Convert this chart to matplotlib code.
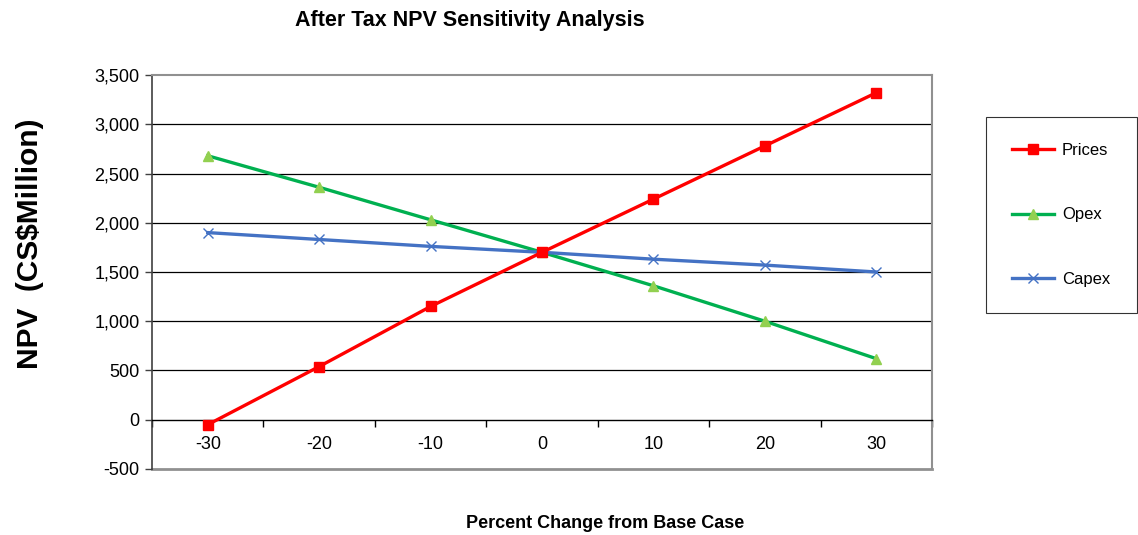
import matplotlib
matplotlib.use("Agg")
import matplotlib.pyplot as plt
from matplotlib.ticker import FuncFormatter, MultipleLocator

plt.rcParams['font.family'] = ['Liberation Sans', 'DejaVu Sans']

pct_change = [-30, -20, -10, 0, 10, 20, 30]
prices = [-50, 540, 1150, 1700, 2240, 2780, 3320]
opex = [2680, 2360, 2030, 1700, 1360, 1000, 620]
capex = [1900, 1830, 1760, 1700, 1630, 1570, 1500]

fig = plt.figure(figsize=(11.38, 5.35), dpi=100)
ax = fig.add_axes([0.1336, 0.1234, 0.819 - 0.1336, 0.8598 - 0.1234])

ax.plot(pct_change, prices, color='#FF0000', lw=2.4, marker='s', ms=6.5,
        mfc='#FF0000', mec='#FF0000', label='Prices', zorder=4)
ax.plot(pct_change, opex, color='#00B050', lw=2.4, marker='^', ms=7.5,
        mfc='#92D050', mec='#92D050', label='Opex', zorder=3)
ax.plot(pct_change, capex, color='#4472C4', lw=2.4, marker='x', ms=7.5,
        mec='#4472C4', mew=1.0, label='Capex', zorder=3)

ax.set_xlim(-35, 35)
ax.set_ylim(-500, 3500)
ax.yaxis.set_major_locator(MultipleLocator(500))
ax.yaxis.set_major_formatter(FuncFormatter(lambda v, p: f"{int(v):,}"))
ax.set_xticks(pct_change)
ax.set_xticklabels([str(v) for v in pct_change])
ax.set_xticks([-35, -25, -15, -5, 5, 15, 25, 35], minor=True)
ax.tick_params(axis='x', which='major', length=0, pad=12, labelsize=13)
ax.tick_params(axis='x', which='minor', length=5, width=1, color='black', direction='out')
ax.tick_params(axis='y', length=5, width=1, color='#404040', pad=4, labelsize=13)

for v in range(500, 3500, 500):
    ax.axhline(v, color='black', lw=0.9, zorder=1)

for s in ['top', 'right']:
    ax.spines[s].set_color('#909090')
    ax.spines[s].set_linewidth(1.5)
ax.spines['left'].set_color('#404040')
ax.spines['left'].set_linewidth(1.2)
ax.spines['bottom'].set_position(('data', 0))
ax.spines['bottom'].set_color('black')
ax.spines['bottom'].set_linewidth(1.0)
ax.axhline(-500, color='#909090', lw=2.0, clip_on=False, zorder=1)

fig.text(0.413, 0.962, 'After Tax NPV Sensitivity Analysis', ha='center', va='center',
         fontsize=15.5, fontweight='bold')
fig.text(0.532, 0.022, 'Percent Change from Base Case', ha='center', va='center',
         fontsize=13, fontweight='bold')
fig.text(0.026, 0.545, 'NPV  (CS$Million)', ha='center', va='center', rotation=90,
         fontsize=21.5, fontweight='bold')

leg = fig.legend(loc='upper left',
                 bbox_to_anchor=(986 / 1138, 1 - 117 / 535, 151 / 1138, 0.0),
                 mode='expand', frameon=True, fancybox=False, edgecolor='black',
                 fontsize=12, labelspacing=2.98, borderpad=1.55, handlelength=2.5,
                 handletextpad=0.5, borderaxespad=0)
leg.get_frame().set_linewidth(0.8)

fig.savefig('out.png', dpi=100)
